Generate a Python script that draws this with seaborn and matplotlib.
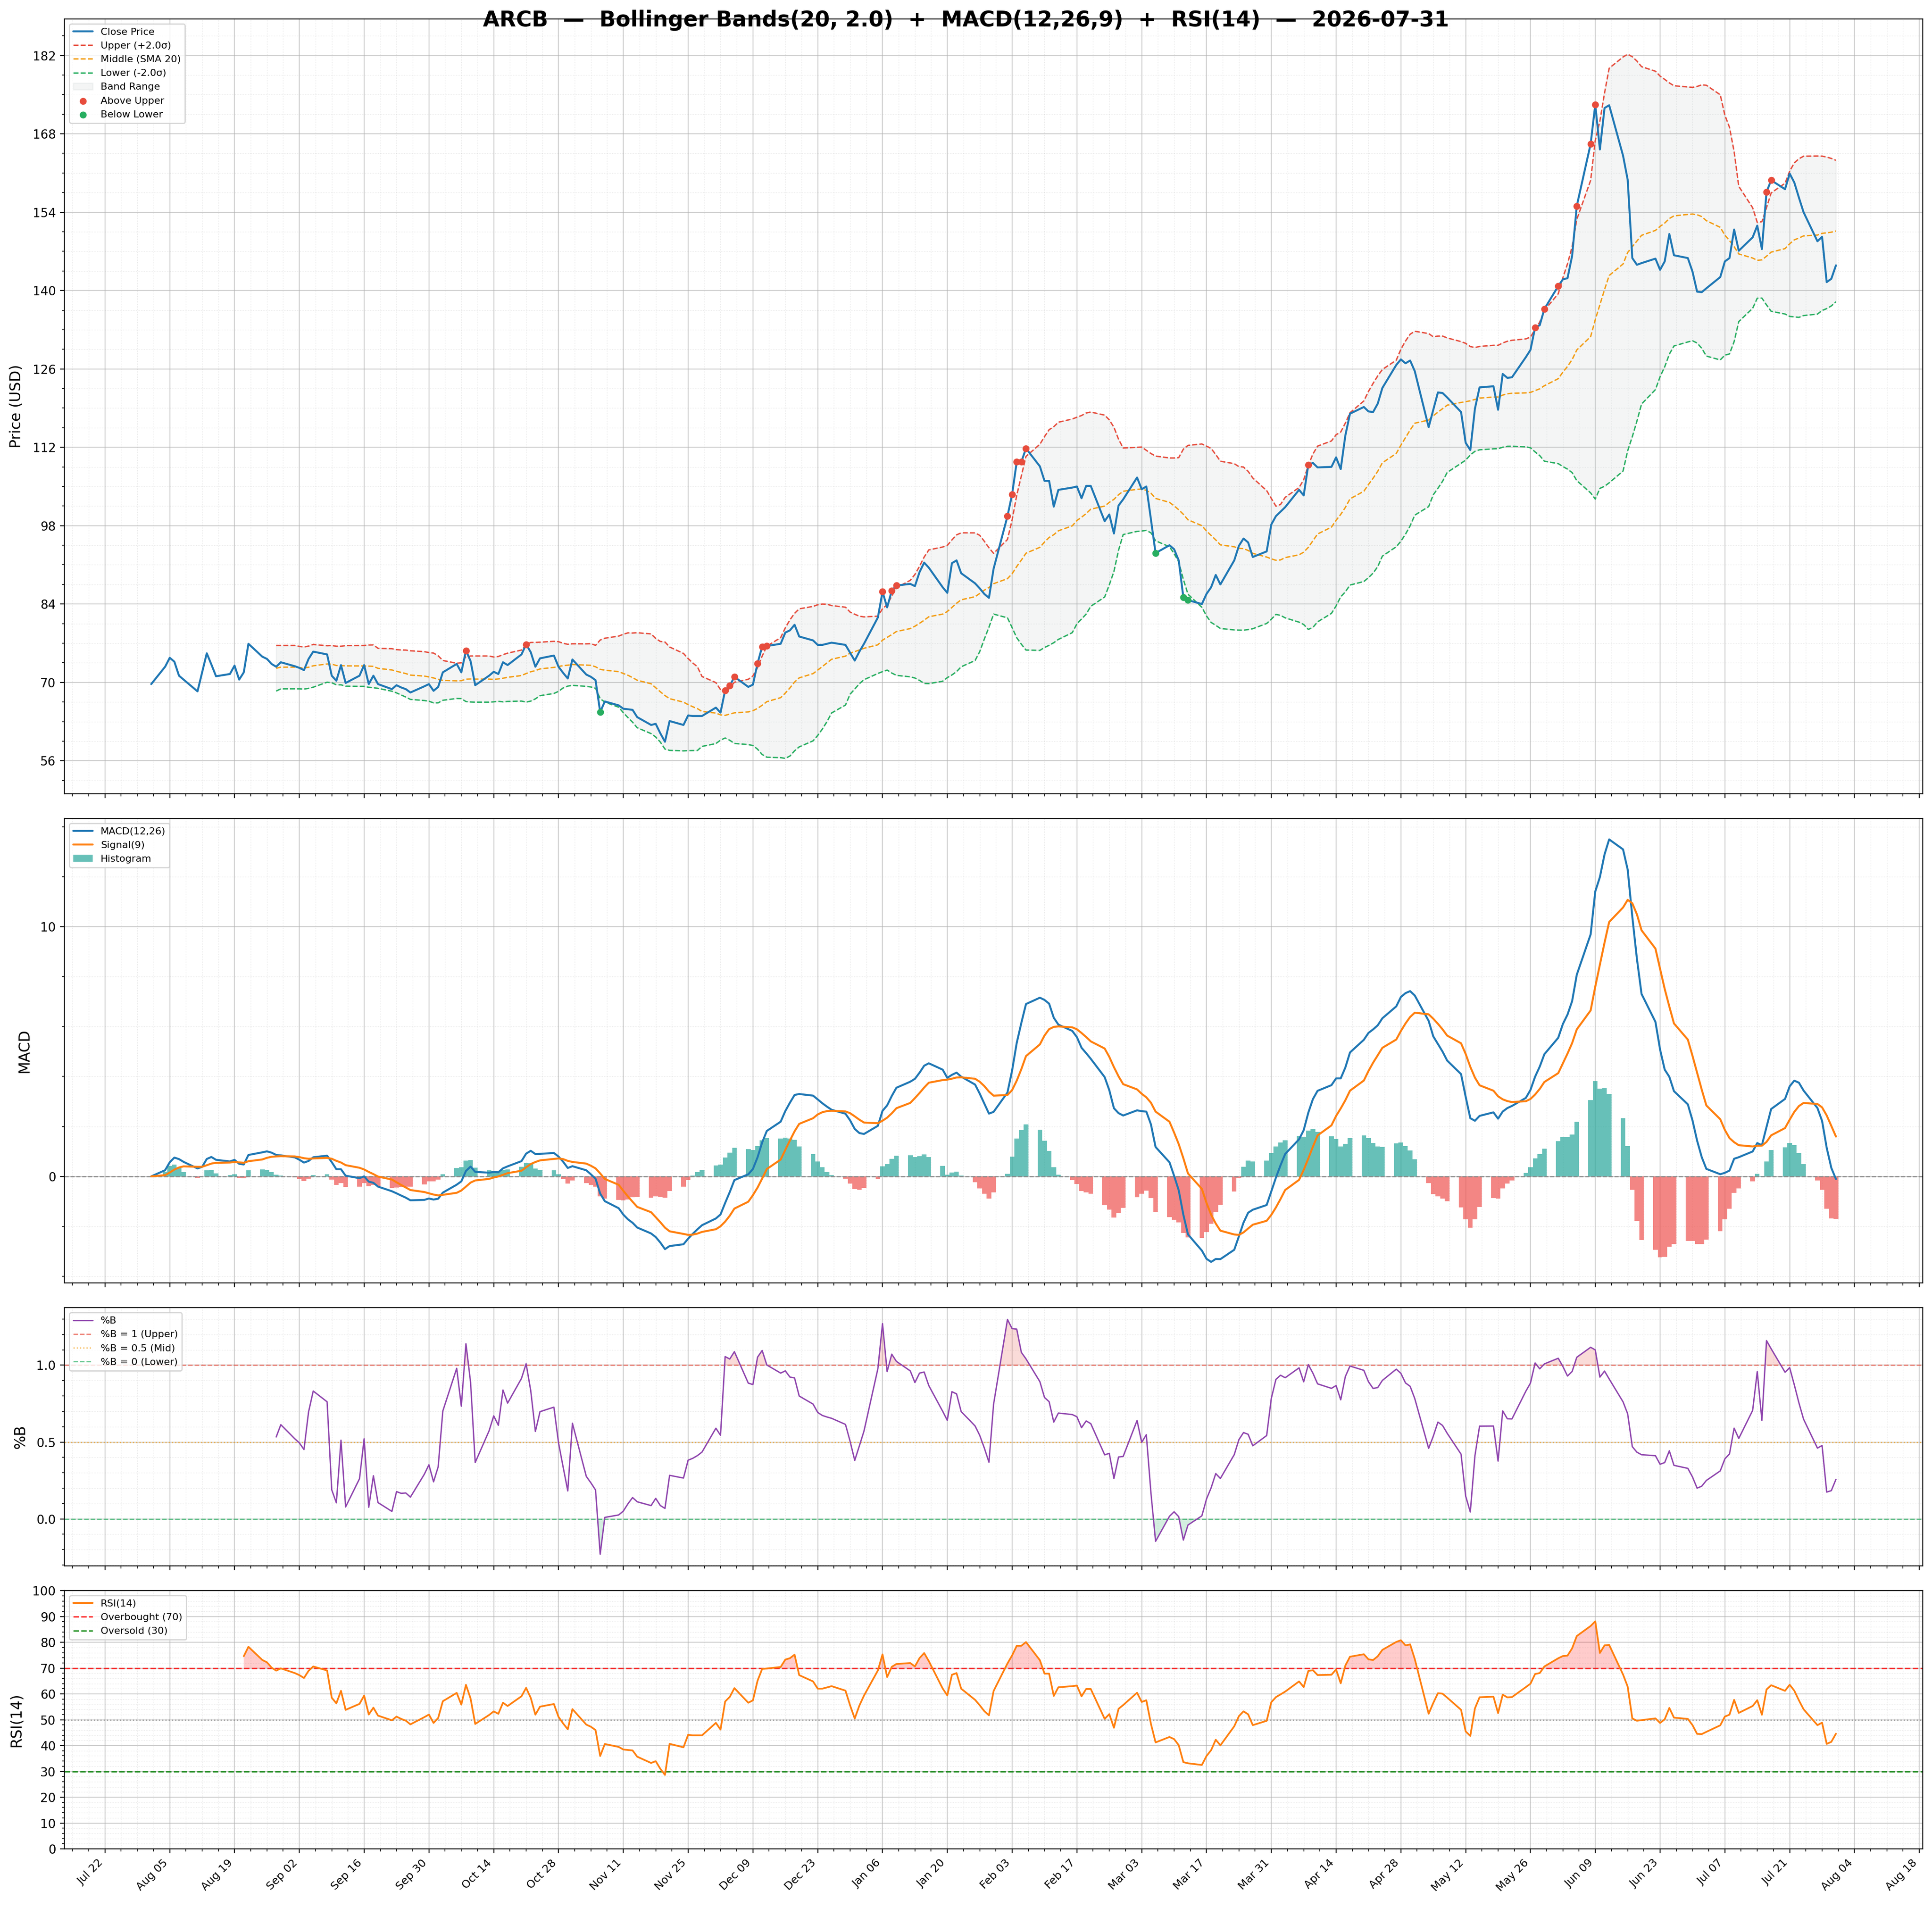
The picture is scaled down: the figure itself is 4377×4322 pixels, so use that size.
import numpy as np
import pandas as pd
import matplotlib
matplotlib.use("Agg")
import matplotlib.pyplot as plt
import matplotlib.dates as mdates
from matplotlib.ticker import MultipleLocator, AutoMinorLocator, FixedLocator
import seaborn as sns


# ==================================================
# STYLE
# ==================================================
sns.set_style("ticks")
plt.rcParams.update({
    "font.family": ["DejaVu Sans"],
    "axes.edgecolor": "black",
    "axes.labelcolor": "black",
    "text.color": "black",
    "xtick.color": "black",
    "ytick.color": "black",
    "axes.labelsize": 12,
    "axes.labelpad": 7,
    "xtick.labelsize": 10,
    "ytick.labelsize": 10,
    "legend.fontsize": 8,
    "patch.force_edgecolor": False,
})


# ==================================================
# DATA  (daily closes, business days)
# ==================================================
TICKER = "ARCB"
START, END = "2025-08-01", "2026-07-31"
BB_WIN, BB_K = 20, 2.0
MACD_FAST, MACD_SLOW, MACD_SIG = 12, 26, 9
RSI_WIN = 14

close_aug = [69.7, 72.8, 74.4, 73.7, 71.2, 70.5, 68.4, 71.8, 75.2, 73.2, 71.1,
             71.5, 73.0, 70.5, 71.8, 76.9, 74.6, 74.2, 73.3, 72.8, 73.6]
close_sep = [72.9, 72.6, 72.2, 74.2, 75.5, 75.0, 71.2, 70.3, 73.1, 69.9, 71.2,
             73.1, 69.7, 71.2, 69.7, 68.8, 69.5, 69.1, 68.8, 68.2, 69.3, 69.7]
close_oct = [68.5, 69.2, 71.8, 73.3, 71.8, 75.7, 73.8, 69.5, 71.2, 71.9, 71.5,
             73.6, 73.1, 75.0, 76.8, 75.4, 72.8, 74.3, 74.8, 72.8, 71.7, 70.7, 74.1]
close_nov = [71.4, 71.0, 70.4, 64.7, 66.6, 65.9, 65.3, 65.2, 65.1, 63.8,
             62.4, 62.6, 60.9, 59.4, 63.1, 62.4, 64.1, 64.0, 64.0, 64.0]
close_dec = [65.5, 64.6, 68.6, 69.4, 71.0, 69.2, 69.6, 73.4, 76.4, 76.5, 76.9, 78.9,
             79.3, 80.3, 78.2, 77.5, 76.7, 76.7, 76.9, 77.1, 76.7, 75.3, 73.9]
close_jan = [75.5, 76.9, 81.6, 86.2, 83.4, 86.4, 87.3, 87.6, 87.2, 89.7, 91.4,
             90.5, 87.0, 86.0, 91.3, 91.8, 89.5, 87.7, 86.8, 85.8, 85.1, 90.3]
close_feb = [99.7, 103.6, 109.4, 109.4, 111.8, 108.6, 106.0, 106.0, 101.4, 104.4,
             104.8, 105.0, 102.9, 105.1, 105.1, 98.8, 100.0, 96.6, 101.6, 102.7]
close_mar = [106.6, 104.5, 105.0, 99.1, 93.1, 94.5, 93.8, 91.8, 85.2, 84.7, 84.0,
             85.8, 87.0, 89.2, 87.5, 91.8, 94.4, 95.7, 95.0, 92.4, 93.4, 98.2]
close_apr = [99.7, 100.5, 101.3, 104.4, 103.4, 108.9, 109.2, 108.4, 108.5, 110.2, 108.1,
             114.1, 118.0, 119.2, 118.4, 118.3, 119.8, 122.6, 126.7, 127.7, 127.0, 127.5]
close_may = [125.6, 115.6, 118.7, 121.8, 121.7, 120.9, 118.3, 112.8, 111.5, 118.9, 122.7,
             122.9, 118.7, 125.1, 124.4, 124.5, 128.1, 129.4, 133.4, 133.8, 136.7]
close_jun = [140.8, 142.0, 142.2, 146.2, 155.1, 166.2, 173.2, 165.2, 172.6, 173.1, 164.1,
             159.8, 145.8, 144.6, 144.9, 145.7, 143.7, 145.2, 150.1, 146.3, 145.8, 143.4]
close_jul = [139.8, 139.7, 140.4, 142.4, 145.2, 145.8, 150.9, 147.1, 149.5, 151.6, 147.4,
             157.6, 159.7, 158.1, 160.9, 159.3, 156.6, 154.0, 148.8, 149.6, 141.5, 142.1, 144.5]

dates = pd.bdate_range(START, END)
close = pd.Series(np.concatenate([close_aug, close_sep, close_oct, close_nov, close_dec,
                                  close_jan, close_feb, close_mar, close_apr, close_may,
                                  close_jun, close_jul]), index=dates)


# ==================================================
# INDICATORS
# ==================================================
mid = close.rolling(BB_WIN).mean()
std = close.rolling(BB_WIN).std()
upper = mid + BB_K * std
lower = mid - BB_K * std
pct_b = (close - lower) / (upper - lower)

ema_fast = close.ewm(span=MACD_FAST, adjust=False).mean()
ema_slow = close.ewm(span=MACD_SLOW, adjust=False).mean()
macd = ema_fast - ema_slow
signal = macd.ewm(span=MACD_SIG, adjust=False).mean()
hist = macd - signal

delta = close.diff()
avg_gain = delta.clip(lower=0).ewm(alpha=1 / RSI_WIN, adjust=False, min_periods=RSI_WIN).mean()
avg_loss = (-delta.clip(upper=0)).ewm(alpha=1 / RSI_WIN, adjust=False, min_periods=RSI_WIN).mean()
rsi = 100 - 100 / (1 + avg_gain / avg_loss)

above = close > upper
below = close < lower


# ==================================================
# FIGURE
# ==================================================
W, H = 4377, 4322
fig = plt.figure(figsize=(W / 200, H / 200), dpi=200)
gs = fig.add_gridspec(
    4, 1,
    height_ratios=[3, 1.8, 1, 1],
    left=146 / W, right=4356 / W,
    top=1 - 43 / H, bottom=1 - 4188 / H,
    hspace=0.0563
)
ax1 = fig.add_subplot(gs[0])
ax2 = fig.add_subplot(gs[1], sharex=ax1)
ax3 = fig.add_subplot(gs[2], sharex=ax1)
ax4 = fig.add_subplot(gs[3], sharex=ax1)

# --- price + bands
sns.lineplot(x=dates, y=close.values, ax=ax1, color="#1f77b4", lw=1.6,
             estimator=None, label="Close Price", zorder=3)
sns.lineplot(x=dates, y=upper.values, ax=ax1, color="#e74c3c", lw=1.1, ls="--",
             estimator=None, label=f"Upper (+{BB_K}σ)", zorder=2)
sns.lineplot(x=dates, y=mid.values, ax=ax1, color="#f39c12", lw=1.1, ls="--",
             estimator=None, label=f"Middle (SMA {BB_WIN})", zorder=2)
sns.lineplot(x=dates, y=lower.values, ax=ax1, color="#27ae60", lw=1.1, ls="--",
             estimator=None, label=f"Lower (-{BB_K}σ)", zorder=2)
ax1.fill_between(dates, lower, upper, color="#95a5a6", alpha=0.1,
                 label="Band Range", zorder=1)
sns.scatterplot(x=dates[above], y=close[above].values, ax=ax1, color="#e74c3c",
                s=32, linewidth=0, label="Above Upper", zorder=5)
sns.scatterplot(x=dates[below], y=close[below].values, ax=ax1, color="#27ae60",
                s=32, linewidth=0, label="Below Lower", zorder=5)
ax1.set_ylabel("Price (USD)")
ax1.yaxis.set_major_locator(MultipleLocator(14))

# --- MACD
sns.lineplot(x=dates, y=macd.values, ax=ax2, color="#1f77b4", lw=1.6,
             estimator=None, label=f"MACD({MACD_FAST},{MACD_SLOW})", zorder=3)
sns.lineplot(x=dates, y=signal.values, ax=ax2, color="#ff7f0e", lw=1.6,
             estimator=None, label=f"Signal({MACD_SIG})", zorder=3)
bar_colors = np.where(hist.values >= 0, "#26a69a", "#ef5350")
ax2.bar(dates, hist.values, width=1.0, color=bar_colors, alpha=0.7,
        linewidth=0, label="Histogram", zorder=2)
ax2.axhline(0, color="#888888", ls="--", lw=0.9, zorder=2)
ax2.set_ylabel("MACD")
ax2.yaxis.set_major_locator(MultipleLocator(10))

# --- %B
sns.lineplot(x=dates, y=pct_b.values, ax=ax3, color="#8e44ad", lw=1.1,
             estimator=None, label="%B", zorder=3)
ax3.axhline(1.0, color="#e74c3c", ls="--", lw=1.0, alpha=0.7, label="%B = 1 (Upper)")
ax3.axhline(0.5, color="#f39c12", ls=":", lw=1.0, alpha=0.7, label="%B = 0.5 (Mid)")
ax3.axhline(0.0, color="#27ae60", ls="--", lw=1.0, alpha=0.7, label="%B = 0 (Lower)")
ax3.fill_between(dates, pct_b, 1.0, where=pct_b > 1.0, interpolate=True,
                 color="#e74c3c", alpha=0.2, linewidth=0)
ax3.fill_between(dates, pct_b, 0.0, where=pct_b < 0.0, interpolate=True,
                 color="#27ae60", alpha=0.2, linewidth=0)
ax3.set_ylabel("%B")
ax3.yaxis.set_major_locator(MultipleLocator(0.5))

# --- RSI
sns.lineplot(x=dates, y=rsi.values, ax=ax4, color="#ff7f0e", lw=1.4,
             estimator=None, label=f"RSI({RSI_WIN})", zorder=3)
ax4.axhline(70, color="red", ls="--", lw=1.2, alpha=0.8, label="Overbought (70)")
ax4.axhline(30, color="green", ls="--", lw=1.2, alpha=0.8, label="Oversold (30)")
ax4.axhline(50, color="grey", ls=":", lw=1.0, alpha=0.7)
ax4.fill_between(dates, rsi, 70, where=rsi > 70, interpolate=True,
                 color="red", alpha=0.2, linewidth=0)
ax4.fill_between(dates, rsi, 30, where=rsi < 30, interpolate=True,
                 color="green", alpha=0.2, linewidth=0)
ax4.set_ylim(0, 100)
ax4.set_ylabel(f"RSI({RSI_WIN})")
ax4.yaxis.set_major_locator(MultipleLocator(10))

# --- shared styling
tick_dates = pd.date_range("2025-07-22", "2026-08-18", freq="14D")
ax4.xaxis.set_major_locator(FixedLocator(mdates.date2num(tick_dates)))
ax4.xaxis.set_major_formatter(mdates.DateFormatter("%b %d"))
ax4.xaxis.set_minor_locator(AutoMinorLocator(4))

for ax in (ax1, ax2, ax3, ax4):
    ax.yaxis.set_minor_locator(AutoMinorLocator())
    ax.grid(True, which="major", color="#b0b0b0", alpha=0.6, lw=0.8)
    ax.grid(True, which="minor", color="#b0b0b0", alpha=0.35, lw=0.5, ls=":")
    ax.set_xlabel("")
    ax.legend(loc="upper left", fontsize=8, frameon=True)
    for s in ax.spines.values():
        s.set_visible(True)
    ax.tick_params(which="both", top=False, right=False)

for ax in (ax1, ax2, ax3):
    ax.tick_params(axis="x", labelbottom=False)

ax4.tick_params(axis="x", labelrotation=45, labelsize=9)
plt.setp(ax4.get_xticklabels(), ha="right")

fig.suptitle(
    f"{TICKER}  —  Bollinger Bands({BB_WIN}, {BB_K})  +  "
    f"MACD({MACD_FAST},{MACD_SLOW},{MACD_SIG})  +  RSI({RSI_WIN})  —  {END}",
    fontsize=17.5, fontweight="bold", y=1 - 60 / H, va="baseline"
)

fig.savefig("out.png", dpi=200)
